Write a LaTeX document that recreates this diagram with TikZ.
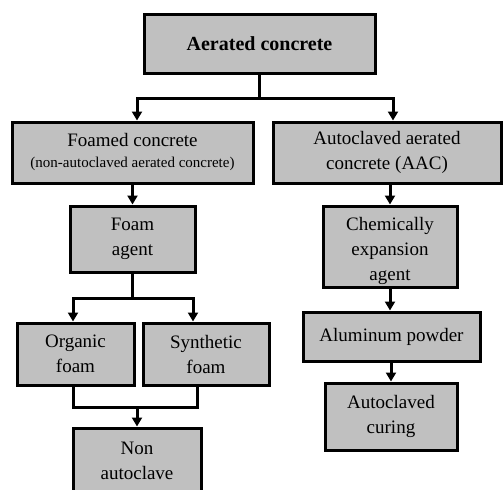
\documentclass[tikz,border=0pt]{standalone}
\usepackage{fontspec}
\setmainfont{Liberation Serif}
\usetikzlibrary{arrows.meta}
\definecolor{boxgray}{RGB}{192,192,192}

\begin{document}
\begin{tikzpicture}[x=1pt, y=-1pt,
    box/.style={draw, line width=3pt, fill=boxgray, inner sep=0pt, align=center,
      font=\fontsize{19}{25}\selectfont},
    arr/.style={line width=3pt, -{Triangle[length=9pt, width=10pt]}},
    joint/.style={line width=3pt}]
  \useasboundingbox (0,0) rectangle (504,490);
  \clip (0,0) rectangle (504,490);

  \node [box, minimum width=231, minimum height=59, font=\bfseries\fontsize{20}{25}\selectfont] (aerated) at (259.5,43.5) {Aerated concrete};
  \node [box, minimum width=241, minimum height=61] (foamed) at (132.5,152.5) {Foamed concrete\\[-4pt]{\fontsize{15}{18}\selectfont (non-autoclaved aerated concrete)}};
  \node [box, minimum width=228, minimum height=61] (aac) at (387,152.5) {Autoclaved aerated\\concrete (AAC)};
  \node [box, minimum width=125, minimum height=66] (agent) at (132.5,239) {Foam\\agent};
  \node [box, minimum width=134, minimum height=81] (chem) at (390,246.5) {};
  \node [font=\fontsize{19}{25}\selectfont, align=center, inner sep=0pt] (chemtext) at (390,251) {Chemically\\expansion\\agent};
  \node [box, minimum width=177, minimum height=49] (alum) at (391.5,336.5) {Aluminum powder};
  \node [box, minimum width=117, minimum height=62] (organic) at (75.5,354) {Organic\\foam};
  \node [box, minimum width=126, minimum height=62] (synth) at (206,354) {Synthetic\\foam};
  \node [box, minimum width=128, minimum height=66] (nonauto) at (137,461) {Non\\autoclave};
  \node [box, minimum width=132, minimum height=67] (curing) at (391,416.5) {Autoclaved\\curing};

  \draw [joint] (aerated.south) -- ++(0,24) coordinate (split);
  \draw [arr] (split) -| ([xshift=4.5pt]foamed.north);
  \draw [arr] (split) -| ([xshift=6pt]aac.north);
  \draw [arr] (foamed.south) -- (agent.north);
  \draw [joint] (agent.south) -- ++(0,25) coordinate (fork);
  \draw [arr] (fork) -| ([xshift=-2.5pt]organic.north);
  \draw [arr] (fork) -| ([xshift=-13pt]synth.north);
  \draw [joint] ([xshift=-2.5pt]organic.south) -- ++(0,21) coordinate (join) -| ([xshift=-9pt]synth.south);
  \draw [arr] (join -| nonauto.north) -- (nonauto.north);
  \draw [arr] (aac.south -| chem.north) -- (chem.north);
  \draw [arr] (chem.south) -- (chem.south |- alum.north);
  \draw [arr] (alum.south -| curing.north) -- (curing.north);
\end{tikzpicture}
\end{document}
